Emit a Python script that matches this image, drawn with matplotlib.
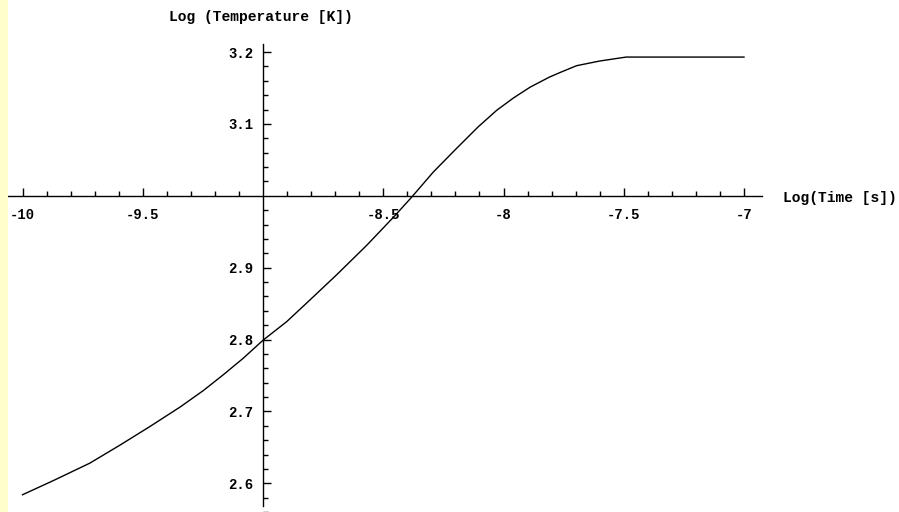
import matplotlib
matplotlib.use("Agg")
import matplotlib.pyplot as plt
from matplotlib.patches import Rectangle

# log10 time [s] vs log10 temperature [K]
log_t = [-10.0, -9.87, -9.72, -9.595, -9.47, -9.345, -9.248, -9.165, -9.082,
         -9.0, -8.901, -8.805, -8.694, -8.569, -8.458, -8.382, -8.292, -8.195,
         -8.105, -8.028, -7.959, -7.89, -7.81, -7.765, -7.696, -7.6, -7.49,
         -7.0]
log_T = [2.584, 2.604, 2.628, 2.653, 2.679, 2.706, 2.729, 2.751, 2.774,
         2.799, 2.825, 2.855, 2.890, 2.931, 2.970, 2.998, 3.033, 3.066,
         3.096, 3.119, 3.136, 3.151, 3.165, 3.1715, 3.181, 3.1875, 3.193,
         3.193]

x_major = [-10, -9.5, -8.5, -8, -7.5, -7]
x_major_labels = ["-10", "-9.5", "-8.5", "-8", "-7.5", "-7"]
x_minor = [round(-10 + 0.1 * i, 1) for i in range(31)]
y_major = [2.6, 2.7, 2.8, 2.9, 3.1, 3.2]
y_major_labels = ["2.6", "2.7", "2.8", "2.9", "3.1", "3.2"]
y_minor = [round(2.56 + 0.02 * i, 2) for i in range(33)]

font = "Liberation Mono"

fig = plt.figure(figsize=(8.99, 5.12), dpi=100)
ax = fig.add_axes([0, 0, 1, 1])
ax.set_xlim(-10.0936, -6.3555)
ax.set_ylim(2.5681, 3.2724)

# pale yellow strip on the left edge
fig.patches.append(Rectangle((0, 0), 8 / 899, 1, transform=fig.transFigure,
                             facecolor="#ffffcc", edgecolor="none", zorder=0))

ax.plot(log_t, log_T, color="black", lw=1.0)

for s in ["top", "right"]:
    ax.spines[s].set_visible(False)
ax.spines["left"].set_position(("data", -9))
ax.spines["bottom"].set_position(("data", 3.0))
ax.spines["left"].set_bounds(2.5681, 3.2105)
ax.spines["bottom"].set_bounds(-10.06, -6.925)
ax.spines["left"].set_linewidth(1.0)
ax.spines["bottom"].set_linewidth(1.0)

ax.set_xticks(x_major)
ax.set_xticklabels(x_major_labels)
ax.set_xticks([v for v in x_minor if v not in x_major and v != -9], minor=True)
ax.set_yticks(y_major)
ax.set_yticklabels(y_major_labels)
ax.set_yticks([v for v in y_minor if v not in y_major and v != 3.0], minor=True)

ax.tick_params(which="both", direction="in", color="black", width=1.0)
ax.tick_params(which="major", length=6)
ax.tick_params(which="minor", length=3.5)
ax.tick_params(axis="x", pad=9)
ax.tick_params(axis="y", pad=7)
for lab in ax.get_xticklabels() + ax.get_yticklabels():
    lab.set_fontfamily(font)
    lab.set_fontweight("bold")
    lab.set_fontsize(10)

ax.text(261 / 899, 1 - 17 / 512, "Log (Temperature [K])", transform=ax.transAxes,
        ha="center", va="center", fontfamily=font, fontweight="bold", fontsize=10.5)
ax.text(783 / 899, 1 - 198 / 512, "Log(Time [s])", transform=ax.transAxes,
        ha="left", va="center", fontfamily=font, fontweight="bold", fontsize=10.5)

fig.savefig("out.png", dpi=100)
